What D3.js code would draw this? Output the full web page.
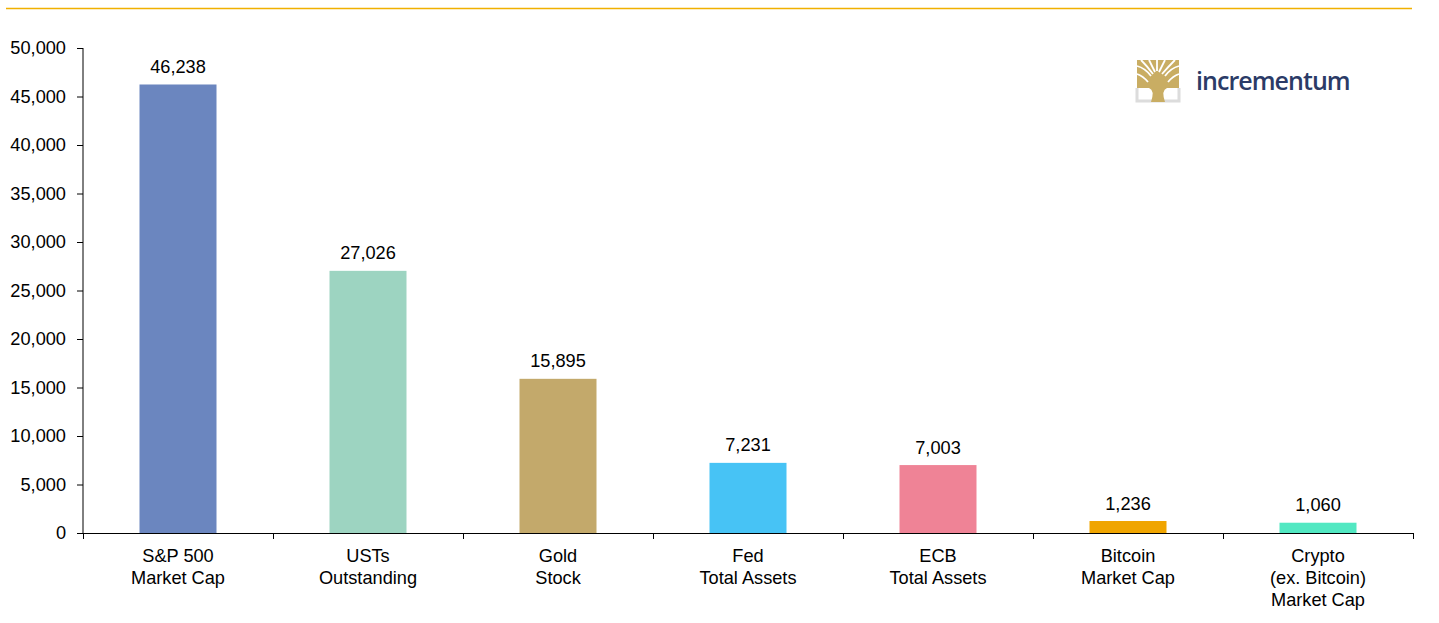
<!DOCTYPE html>
<html><head><meta charset="utf-8">
<script src="https://cdn.jsdelivr.net/npm/d3@7"></script>
<style>body{margin:0;background:#fff}svg{display:block;font-family:"Liberation Sans",Arial,sans-serif}</style>
</head><body><svg id="c" width="1439" height="623"></svg>
<script>
const categories = [["S&P 500","Market Cap"],["USTs","Outstanding"],["Gold","Stock"],["Fed","Total Assets"],["ECB","Total Assets"],["Bitcoin","Market Cap"],["Crypto","(ex. Bitcoin)","Market Cap"]];
const values = [46238, 27026, 15895, 7231, 7003, 1236, 1060];
const colors = ["#6b86bf","#9dd4c1","#c3a96b","#47c3f5","#ef8396","#f0a500","#52e8c2"];
const yTicks = [0,5000,10000,15000,20000,25000,30000,35000,40000,45000,50000];

(function(){
const svg = d3.select("#c");
const mL = 83, mR = 1413, mT = 48, mB = 533;
const FS = 18.2;
const xb = d3.scaleBand().domain(d3.range(categories.length)).range([mL, mR]);
const y = d3.scaleLinear().domain([0, 50000]).range([mB, mT]);
const fmt = d3.format(",");

svg.append("line").attr("x1",6).attr("x2",1412).attr("y1",8.5).attr("y2",8.5).attr("stroke","#f0b000").attr("stroke-width",1.3);

svg.selectAll("rect.bar").data(values).join("rect")
  .attr("x",(d,i)=>xb(i)+xb.bandwidth()/2-38.5).attr("width",77)
  .attr("y",d=>y(d)).attr("height",d=>y(0)-y(d)).attr("fill",(d,i)=>colors[i]);

svg.selectAll("text.val").data(values).join("text")
  .attr("x",(d,i)=>xb(i)+xb.bandwidth()/2).attr("y",d=>y(d)-11.5)
  .attr("text-anchor","middle").attr("font-size",FS).attr("fill","#000").text(d=>fmt(d));

const ya = svg.append("g").attr("transform",`translate(${mL},0)`)
  .call(d3.axisLeft(y).tickValues(yTicks).tickFormat(fmt).tickSize(6).tickPadding(11));
ya.selectAll("text").attr("font-size",FS).attr("fill","#000").attr("font-family","Liberation Sans, Arial, sans-serif");
ya.selectAll("line,path").attr("stroke","#000");
ya.select("path").attr("d",`M0,${mT}V${mB}`);

const xg = svg.append("g");
xg.append("line").attr("x1",mL).attr("x2",mR).attr("y1",mB+0.5).attr("y2",mB+0.5).attr("stroke","#000");
const bounds = d3.range(categories.length+1).map(i=> i<categories.length ? xb(i) : mR);
xg.selectAll("line.t").data(bounds).join("line").attr("class","t")
  .attr("x1",d=>d+0.5).attr("x2",d=>d+0.5).attr("y1",mB).attr("y2",mB+6).attr("stroke","#000");
const cl = xg.selectAll("text.cat").data(categories).join("text")
  .attr("text-anchor","middle").attr("font-size",FS).attr("fill","#000");
cl.each(function(lines,i){
  const t = d3.select(this);
  lines.forEach((l,k)=>t.append("tspan").attr("x",xb(i)+xb.bandwidth()/2).attr("y",561.5+k*22).text(l));
});

// logo
const lg = svg.append("g").attr("transform","translate(1137,60)");
lg.append("rect").attr("x",0).attr("y",0).attr("width",42).attr("height",28).attr("fill","#c9ad63");
lg.append("path").attr("d","M0,28 V41 H42 V28").attr("fill","none").attr("stroke","#dcdcdc").attr("stroke-width",3);
lg.append("path").attr("d","M0,6 Q8,8 14,16 M0,14 Q6,16 11,22 M4,0 Q10,6 16,14 M12,0 Q15,6 18,12 M20,0 V11 M28,0 Q25,6 22,12 M38,0 Q32,6 25,14 M42,6 Q34,8 28,16 M42,14 Q36,16 31,22")
  .attr("stroke","#fff").attr("stroke-width",1.8).attr("fill","none");
lg.append("path").attr("d","M14,42 Q18,30 12,28 L30,28 Q24,30 28,42 Z").attr("fill","#c9ad63");
svg.append("text").attr("x",1196).attr("y",90).attr("font-size",25).attr("font-weight",600).attr("font-family","Open Sans, Liberation Sans, sans-serif").attr("fill","#2b3b67").attr("letter-spacing",-0.95).text("incrementum");
})();
</script></body></html>
